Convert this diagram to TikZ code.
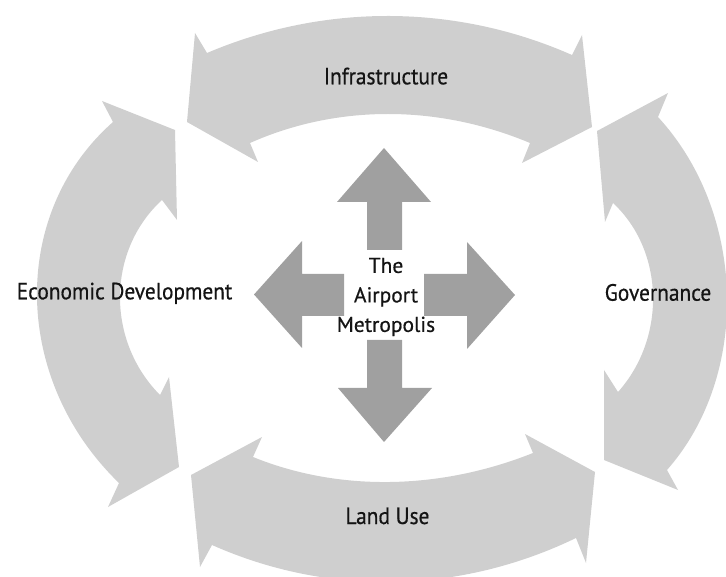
\documentclass[tikz,border=0pt]{standalone}
\usepackage{fontspec}
\setmainfont[FakeBold=0.6]{PT Sans}
\newfontfamily\lblfont[FakeStretch=0.91,FakeBold=0.6]{PT Sans}
\usetikzlibrary{calc}
\definecolor{bandgray}{RGB}{207,207,207}
\definecolor{crossgray}{RGB}{160,160,160}
\definecolor{labelink}{RGB}{20,20,20}
\tikzset{
  band/.style={fill=bandgray},
  crossarrow/.style={fill=crossgray},
  lbl/.style={text=labelink, font=\lblfont\fontsize{23.5}{28}\selectfont, inner sep=0pt, anchor=base},
  centrelbl/.style={text=labelink, font=\fontsize{21.5}{29.5}\selectfont, inner sep=0pt, align=center}
}
% curved double-headed band arrow; #1 = half of the control factor
\newcommand\bandarrow[1]{%
  \coordinate (os) at ($(oe1)!0.5!(oe2)$);
  \coordinate (is) at ($(ie2)!0.5!(ie1)$);
  \fill[band] (t1) -- (ob1) -- (oe1)
    .. controls ($(oe1)!#1!(oe2) + 1.3333*(om) - 1.3333*(os)$)
           and ($(oe2)!#1!(oe1) + 1.3333*(om) - 1.3333*(os)$) .. (oe2)
    -- (ob2) -- (t2) -- (ib2) -- (ie2)
    .. controls ($(ie2)!#1!(ie1) + 1.3333*(im) - 1.3333*(is)$)
           and ($(ie1)!#1!(ie2) + 1.3333*(im) - 1.3333*(is)$) .. (ie1)
    -- (ib1) -- cycle;}
\begin{document}
\begin{tikzpicture}[x=1pt,y=-1pt]
\useasboundingbox (0,0) rectangle (726,577);
\clip (0,0) rectangle (726,577);

% Infrastructure (top)
\coordinate (t1) at (187,122); \coordinate (ob1) at (195,33); \coordinate (oe1) at (207,53);
\coordinate (om) at (390,16);
\coordinate (oe2) at (572,55); \coordinate (ob2) at (582,35); \coordinate (t2) at (592,127);
\coordinate (ib2) at (522,163); \coordinate (ie2) at (530,143);
\coordinate (im) at (388,114);
\coordinate (ie1) at (250,143); \coordinate (ib1) at (258,162);
\bandarrow{0.32}

% Economic Development (left)
\coordinate (t1) at (175,130); \coordinate (ob1) at (102,101); \coordinate (oe1) at (113,122);
\coordinate (om) at (37,298);
\coordinate (oe2) at (119,483); \coordinate (ob2) at (108,507); \coordinate (t2) at (179,467);
\coordinate (ib2) at (169,377); \coordinate (ie2) at (160,395);
\coordinate (im) at (120,296);
\coordinate (ie1) at (162,200); \coordinate (ib1) at (177,220);
\bandarrow{0.27}

% Governance (right)
\coordinate (t1) at (597,131); \coordinate (ob1) at (668,93); \coordinate (oe1) at (658,117);
\coordinate (om) at (727,294);
\coordinate (oe2) at (667,470); \coordinate (ob2) at (678,490); \coordinate (t2) at (604,460);
\coordinate (ib2) at (604,370); \coordinate (ie2) at (618,392);
\coordinate (im) at (653,295);
\coordinate (ie1) at (613,203); \coordinate (ib1) at (605,222);
\bandarrow{0.27}

% Land Use (bottom)
\coordinate (t1) at (191,475); \coordinate (ob1) at (200,567); \coordinate (oe1) at (212,545);
\coordinate (om) at (394,582);
\coordinate (oe2) at (576,538); \coordinate (ob2) at (586,563); \coordinate (t2) at (595,472);
\coordinate (ib2) at (525,434); \coordinate (ie2) at (533,453);
\coordinate (im) at (390,482);
\coordinate (ie1) at (253,457); \coordinate (ib1) at (262,437);
\bandarrow{0.32}

% central cross
\fill[crossarrow] (384,148) -- (431,202) -- (402,202) -- (402,250) -- (367,250) -- (367,202) -- (337,202) -- cycle;
\fill[crossarrow] (384,442) -- (432,388) -- (402,388) -- (402,340) -- (367,340) -- (367,388) -- (338,388) -- cycle;
\fill[crossarrow] (254,294.5) -- (302,241) -- (302,274) -- (344,274) -- (344,316) -- (302,316) -- (302,348) -- cycle;
\fill[crossarrow] (515,295) -- (467,242) -- (467,274) -- (424,274) -- (424,316) -- (467,316) -- (467,349) -- cycle;

% labels
\node[lbl] (infra) at (386,84.3) {Infrastructure};
\node[lbl] (econ) at (124.5,299.3) {Economic Development};
\node[lbl] (gov) at (658,300.7) {Governance};
\node[lbl] (land) at (387.5,524) {Land Use};
\node[centrelbl] (metro) at (386,297) {The\\Airport\\Metropolis};
\end{tikzpicture}
\end{document}
